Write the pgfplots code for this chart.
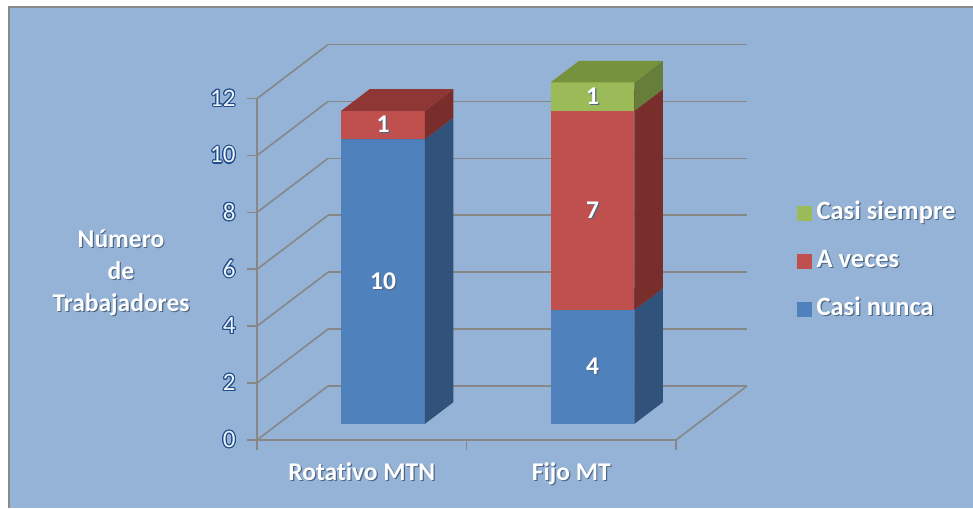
\documentclass[border=0pt]{standalone}
\usepackage{pgfplots}
\pgfplotsset{compat=1.18}
\usepackage{fontspec}
\setmainfont{Carlito}[Ligatures=NoCommon]
\usepackage{contour}
\contourlength{1.1pt}
\contournumber{16}

\definecolor{bgblue}{HTML}{95B3D7}
\definecolor{bordergray}{HTML}{8A8A8A}
\definecolor{gridgray}{HTML}{878787}
\definecolor{shadow}{HTML}{4E6684}
\definecolor{tickline}{HTML}{1F4E8C}
\definecolor{tickfill}{HTML}{EEF3FA}
% front / side / top shades of each series
\definecolor{nuncaF}{HTML}{4F81BD}
\definecolor{nuncaS}{HTML}{31527A}
\definecolor{nuncaT}{HTML}{3C6597}
\definecolor{vecesF}{HTML}{C0504D}
\definecolor{vecesS}{HTML}{7A2E2C}
\definecolor{vecesT}{HTML}{8E3735}
\definecolor{siempreF}{HTML}{9BBB59}
\definecolor{siempreS}{HTML}{667E3A}
\definecolor{siempreT}{HTML}{76923C}

% white text with a soft drop shadow
\newcommand\shtext[1]{\leavevmode\rlap{\kern1.2pt\raisebox{-1.2pt}{\textcolor{shadow}{#1}}}#1}
% outlined tick numbers
\newcommand\outlinednum[1]{\contour{tickline}{\textcolor{tickfill}{#1}}}

% one stacked block: centre, bottom, height, front, side, top colours
\newcommand\segment[6]{%
  \pgfmathsetmacro\xa{#1-0.2}%
  \pgfmathsetmacro\xb{#1+0.2}%
  \pgfmathsetmacro\za{#2}%
  \pgfmathsetmacro\zb{#2+#3}%
  \addplot3[draw=none, fill=#4] coordinates {(\xa,0.3,\za) (\xb,0.3,\za) (\xb,0.3,\zb) (\xa,0.3,\zb)};
  \addplot3[draw=none, fill=#5] coordinates {(\xb,0.3,\za) (\xb,0.7,\za) (\xb,0.7,\zb) (\xb,0.3,\zb)};
  \addplot3[draw=none, fill=#6] coordinates {(\xa,0.3,\zb) (\xb,0.3,\zb) (\xb,0.7,\zb) (\xa,0.7,\zb)};
  \node[text=white, font=\bfseries\fontsize{25.5}{30}\selectfont] at (axis cs:#1,0.3,{#2+#3/2}) {\shtext{#3}};
}

\begin{document}
\begin{tikzpicture}
\useasboundingbox (0,0) rectangle (973pt,508pt);
\fill[white] (0,0) rectangle (973pt,508pt);
\fill[bgblue] (9pt,0) rectangle (973pt,501pt);
\draw[bordergray, line width=2pt] (9pt,0) -- (9pt,501pt) -- (973pt,501pt);

% walls, floor and the stacked columns
\begin{axis}[
  anchor=origin, at={(257pt,68pt)},
  x={(209.5pt,0pt)}, y={(71pt,54pt)}, z={(0pt,28.45pt)},
  xmin=0, xmax=2, ymin=0, ymax=1, zmin=0, zmax=12,
  axis line style={draw=none},
  xtick=\empty, ytick=\empty, ztick={0,2,...,12}, zticklabels={},
  major tick length=0pt,
  zmajorgrids, grid style={gridgray, line width=1.6pt},
  clip=false,
]
\draw[gridgray, line width=1.6pt] (axis cs:2,0,0) -- (axis cs:2,1,0);
% Rotativo MTN: Casi nunca 10, A veces 1
\segment{0.5}{0}{10}{nuncaF}{nuncaS}{nuncaT}
\segment{0.5}{10}{1}{vecesF}{vecesS}{vecesT}
% Fijo MT: Casi nunca 4, A veces 7, Casi siempre 1
\segment{1.5}{0}{4}{nuncaF}{nuncaS}{nuncaT}
\segment{1.5}{4}{7}{vecesF}{vecesS}{vecesT}
\segment{1.5}{11}{1}{siempreF}{siempreS}{siempreT}
\end{axis}

% front axis lines, ticks, categories and legend
\begin{axis}[
  anchor=origin, at={(257pt,68pt)},
  x={(209.5pt,0pt)}, y={(0pt,28.45pt)},
  xmin=0, xmax=2, ymin=0, ymax=12,
  separate axis lines,
  axis x line*=bottom, axis y line*=left,
  axis line style={gridgray, line width=1.6pt, -},
  x axis line style={-}, y axis line style={-},
  tick align=outside,
  major tick length=10pt, minor tick length=10pt,
  tick style={gridgray, line width=1.6pt},
  xtick={0.5,1.5}, xticklabels={\shtext{Rotativo MTN}, \shtext{Fijo MT}},
  minor xtick={0,1,2},
  major x tick style={draw=none},
  ytick={0,2,...,12},
  yticklabels={\outlinednum{0},\outlinednum{2},\outlinednum{4},\outlinednum{6},\outlinednum{8},\outlinednum{10},\outlinednum{12}},
  xticklabel style={text=white, font=\bfseries\fontsize{25.5}{30}\selectfont, yshift=-9pt},
  yticklabel style={font=\fontsize{25}{30}\selectfont, xshift=-8pt},
  legend style={at={(1.2888,0.525)}, anchor=west, draw=none, fill=none,
    inner sep=0pt, row sep=19pt,
    font=\bfseries\fontsize{26.5}{30}\selectfont, text=white,
    nodes={inner sep=3pt, text height=18pt, text depth=5pt}},
  legend cell align=left,
  legend image code/.code={\fill[#1] (0pt,-7pt) rectangle (14pt,7pt);},
  clip=false,
]
\addlegendimage{siempreF}
\addlegendentry{\hspace{2pt}\shtext{Casi siempre}}
\addlegendimage{vecesF}
\addlegendentry{\hspace{2pt}\shtext{A veces}}
\addlegendimage{nuncaF}
\addlegendentry{\hspace{2pt}\shtext{Casi nunca}}
\end{axis}

% axis title
\begin{scope}[every node/.style={text=white, font=\bfseries\fontsize{25.5}{30}\selectfont, anchor=base}]
\node at (121pt,260.3pt) {\shtext{Número}};
\node at (121pt,228.3pt) {\shtext{de}};
\node at (121pt,196.3pt) {\shtext{Trabajadores}};
\end{scope}
\end{tikzpicture}
\end{document}
